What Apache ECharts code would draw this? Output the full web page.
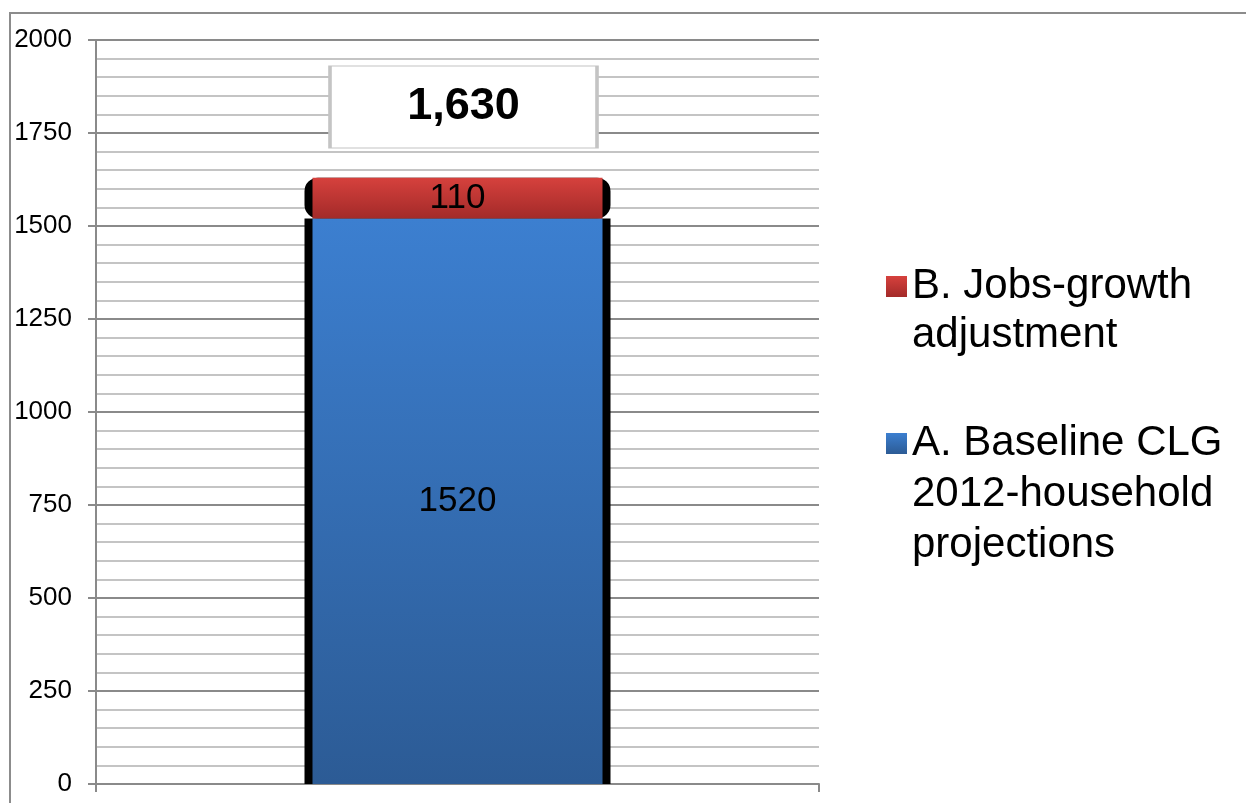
<!DOCTYPE html>
<html>
<head>
<meta charset="utf-8">
<script src="https://cdn.jsdelivr.net/npm/echarts@6/dist/echarts.min.js"></script>
<style>
html,body{margin:0;padding:0;background:#fff;}
#chart{width:1246px;height:803px;}
</style>
</head>
<body>
<div id="chart"></div>
<script>
const categories = [''];
const seriesNames = ['A. Baseline CLG\n2012-household\nprojections', 'B. Jobs-growth\nadjustment'];
const baselineValues = [1520];
const jobsValues = [110];
const yTicks = [0, 250, 500, 750, 1000, 1250, 1500, 1750, 2000];

const total = baselineValues[0] + jobsValues[0];
const FONT = 'Liberation Sans, Arial, sans-serif';

const chart = echarts.init(document.getElementById('chart'));
const grad = (top, bottom) => new echarts.graphic.LinearGradient(0, 0, 0, 1, [
  {offset: 0, color: top}, {offset: 1, color: bottom}
]);
// put blank lines before a multi-line legend name so the icon sits beside its first line
const legendFmt = name => '\n'.repeat(name.split('\n').length - 1) + name;

const axisGray = '#8a8a8a';
const option = {
  animation: false,
  backgroundColor: '#fff',
  textStyle: {fontFamily: FONT},
  graphic: [{
    type: 'rect', z: -10, silent: true,
    shape: {x: 10, y: 13, width: 1260, height: 820},
    style: {fill: 'none', stroke: '#8c8c8c', lineWidth: 2}
  }],
  grid: {left: 96, right: 427, top: 40, bottom: 19, containLabel: false},
  legend: [{
    left: 886, top: 213, orient: 'vertical', padding: 0,
    itemWidth: 21, itemHeight: 21, icon: 'rect',
    data: [{name: seriesNames[1]}],
    formatter: legendFmt,
    textStyle: {fontFamily: FONT, fontSize: 42, color: '#000', lineHeight: 49}
  }, {
    left: 886, top: 316, orient: 'vertical', padding: 0,
    itemWidth: 21, itemHeight: 21, icon: 'rect',
    data: [{name: seriesNames[0]}],
    formatter: legendFmt,
    textStyle: {fontFamily: FONT, fontSize: 42, color: '#000', lineHeight: 51}
  }],
  xAxis: [{
    type: 'category', data: categories, boundaryGap: true,
    axisLine: {show: true, lineStyle: {color: axisGray, width: 2}},
    axisTick: {show: true, length: 8, lineStyle: {color: axisGray, width: 2}},
    axisLabel: {show: false},
    splitLine: {show: false}
  }, {
    type: 'category', data: categories, boundaryGap: true, show: false
  }],
  yAxis: {
    type: 'value', min: yTicks[0], max: yTicks[yTicks.length - 1], interval: 250,
    axisLine: {show: true, lineStyle: {color: axisGray, width: 2}},
    axisTick: {show: true, length: 8, lineStyle: {color: axisGray, width: 2}},
    axisLabel: {fontFamily: FONT, fontSize: 26, color: '#000', margin: 24, formatter: v => String(v)},
    splitLine: {show: true, lineStyle: {color: axisGray, width: 2}},
    minorTick: {show: false, splitNumber: 5},
    minorSplitLine: {show: true, lineStyle: {color: '#c4c4c4', width: 2}}
  },
  series: [{
    name: 'outlineA', type: 'bar', xAxisIndex: 1, stack: 'outline', barWidth: 306, z: 1,
    data: baselineValues, silent: true,
    itemStyle: {color: '#000', borderRadius: [0, 0, 0, 0]}
  }, {
    name: 'outlineB', type: 'bar', xAxisIndex: 1, stack: 'outline', barWidth: 306, z: 1,
    data: jobsValues, silent: true,
    itemStyle: {color: '#000', borderRadius: [11, 11, 11, 11], borderColor: '#000', borderWidth: 5}
  }, {
    name: seriesNames[0], type: 'bar', xAxisIndex: 0, stack: 'total', barWidth: 290, z: 3,
    data: baselineValues,
    itemStyle: {color: grad('#3c7fd0', '#2c5b95')},
    label: {show: true, position: 'inside', fontFamily: FONT, fontSize: 35, color: '#000'}
  }, {
    name: seriesNames[1], type: 'bar', xAxisIndex: 0, stack: 'total', barWidth: 290, z: 3,
    data: jobsValues,
    itemStyle: {color: grad('#d6413d', '#a32a29')},
    label: {show: true, position: 'inside', fontFamily: FONT, fontSize: 35, color: '#000'},
    markPoint: {
      silent: true,
      data: [{coord: [0, 1820], value: total}],
      symbol: 'rect', symbolSize: [267, 82], symbolOffset: [6, 0],
      itemStyle: {color: '#fff', borderColor: '#c4c4c4', borderWidth: 2},
      label: {show: true, position: 'inside', fontFamily: FONT, fontSize: 45, fontWeight: 'bold', color: '#000',
        formatter: p => p.value.toLocaleString('en-US')}
    }
  }]
};
chart.setOption(option);
</script>
</body>
</html>
